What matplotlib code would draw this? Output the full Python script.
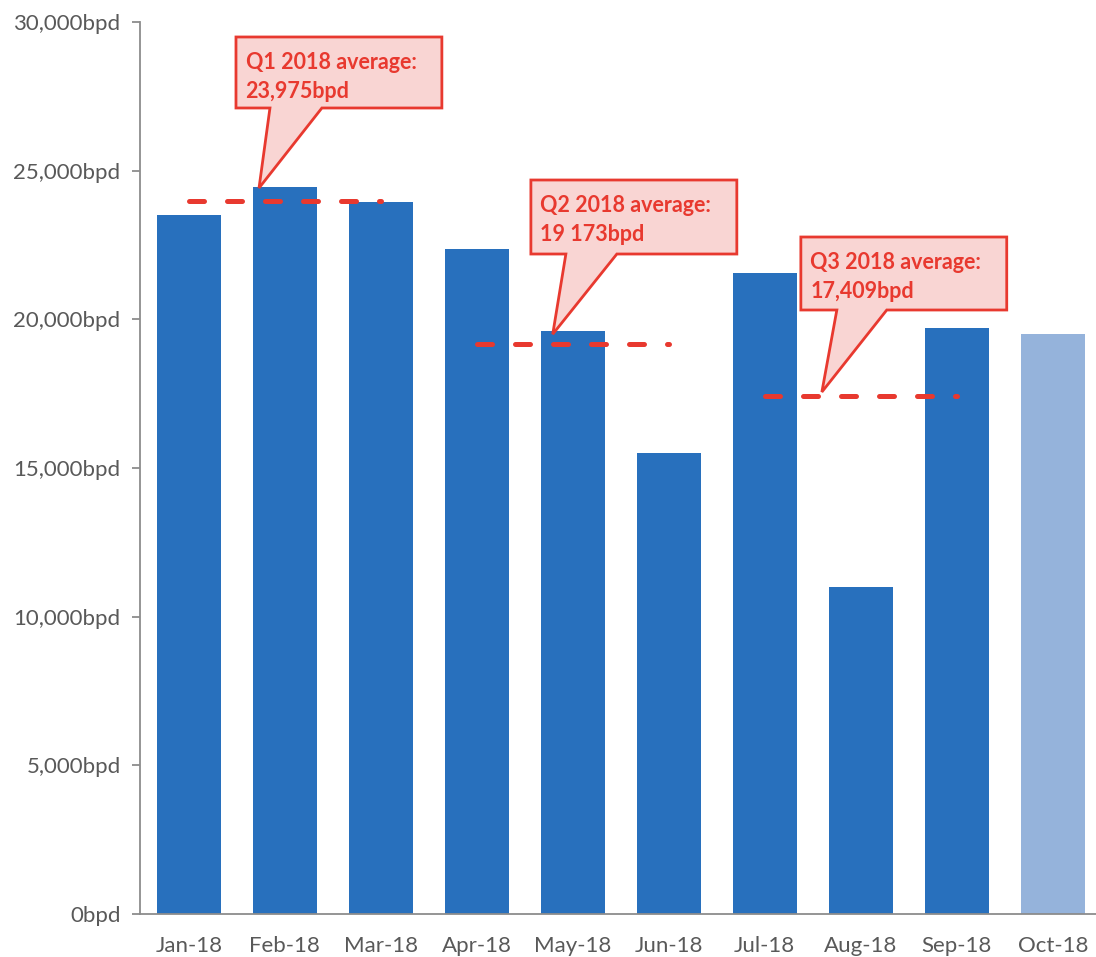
import matplotlib.pyplot as plt
from matplotlib.patches import Polygon
from matplotlib.ticker import FuncFormatter

plt.rcParams['font.family'] = ['Lato', 'DejaVu Sans']

months = ['Jan-18', 'Feb-18', 'Mar-18', 'Apr-18', 'May-18', 'Jun-18',
          'Jul-18', 'Aug-18', 'Sep-18', 'Oct-18']
volumes = [23500, 24450, 23950, 22350, 19600, 15500, 21550, 11000, 19700, 19500]
q_labels = ['Q1 2018 average:\n23,975bpd', 'Q2 2018 average:\n19 173bpd',
            'Q3 2018 average:\n17,409bpd']
q_avgs = [23975, 19173, 17409]
q_spans = [(0, 2), (3, 5), (6, 8)]

blue = '#2870BD'
light_blue = '#95B3DB'
red = '#E8392F'
fill = '#F9D5D3'
grey = '#595959'

fig = plt.figure(figsize=(10.96, 9.57), dpi=100)
ax = fig.add_axes([140/1096, 1-914/957, 1-140/1096, (914-22)/957])

x = list(range(len(months)))
colors = [blue]*(len(months)-1) + [light_blue]
ax.bar(x, volumes, width=0.667, color=colors, zorder=2)

# quarterly averages
for (a, b), v in zip(q_spans, q_avgs):
    ax.plot([a, b], [v, v], color=red, lw=3.6, dash_capstyle='round',
            linestyle=(0, (3.0, 4.6)), zorder=3)

# callout boxes: (x0, x1, y_top, y_bottom, base0, base1, tip_x, tip_y)
boxes = [
    (0.49, 2.635, 29496, 27108, 0.844, 1.385, 0.73, 24417),
    (3.5625, 5.708, 24686, 22197, 3.927, 4.458, 3.79, 19500),
    (6.375, 8.52, 22769, 20314, 6.75, 7.27, 6.594, 17556),
]
for (x0, x1, yt, yb, b0, b1, tx, ty), lab in zip(boxes, q_labels):
    pts = [(x0, yt), (x1, yt), (x1, yb), (b1, yb), (tx, ty), (b0, yb), (x0, yb)]
    ax.add_patch(Polygon(pts, closed=True, facecolor=fill, edgecolor=red,
                         lw=2, zorder=4, clip_on=False))
    ax.text(x0 + 0.1, yt - 500, lab, color=red, fontsize=15.5, fontweight='bold',
            va='top', ha='left', linespacing=1.45, zorder=5)

ax.set_xlim(-0.51, 9.45)
ax.set_ylim(0, 30000)
ax.set_yticks(range(0, 30001, 5000))
ax.yaxis.set_major_formatter(FuncFormatter(lambda v, p: f'{int(v):,}bpd'))
ax.set_xticks(x)
ax.set_xticklabels(months)

for s in ['top', 'right']:
    ax.spines[s].set_visible(False)
for s in ['left', 'bottom']:
    ax.spines[s].set_color('#8C8C8C')
    ax.spines[s].set_linewidth(1.3)
ax.tick_params(axis='y', colors='#8C8C8C', labelcolor=grey, labelsize=16,
               length=6, width=1.3, pad=8)
ax.tick_params(axis='x', length=0, labelcolor=grey, labelsize=16, pad=16)

fig.savefig('out.png', dpi=100)
